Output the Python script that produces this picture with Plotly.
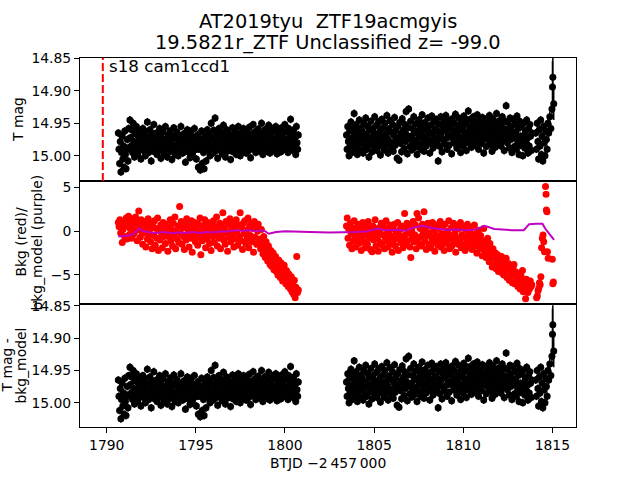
import numpy as np
import plotly.graph_objects as go
from plotly.subplots import make_subplots

# ---------------- data (BTJD - 2457000) ----------------
seg1_start, seg1_end = 1790.65, 1800.75
seg2_start, seg2_end = 1803.45, 1813.85
sector_start = 1789.78

tmag_seg1 = [
 14.965, 14.990, 15.012, 14.978, 15.025, 14.995, 14.970, 15.005, 14.985, 15.018, 14.962, 14.998, 15.020, 14.988, 14.975, 15.008, 14.958, 14.990, 14.945, 14.972,
 14.985, 14.960, 14.995, 14.950, 14.978, 15.002, 14.966, 14.988, 14.955, 14.980, 14.998, 14.970, 14.962, 14.990, 14.975, 15.005, 14.968, 14.984, 14.958, 14.992,
 14.976, 14.962, 15.000, 14.981, 14.970, 14.948, 14.986, 14.995, 14.972, 14.960, 14.990, 15.008, 14.978, 14.966, 14.985, 14.952, 14.994, 14.975, 14.988, 14.965,
 14.998, 14.980, 14.970, 14.992, 14.958, 14.984, 15.004, 14.972, 14.988, 14.963, 14.978, 14.996, 14.982, 14.955, 14.990, 14.975, 15.002, 14.968, 14.986, 14.979,
 14.962, 14.993, 14.975, 15.006, 14.984, 14.970, 14.957, 14.989, 14.998, 14.973, 14.986, 14.964, 14.980, 15.000, 14.969, 14.992, 14.977, 14.955, 14.988, 14.972,
 14.996, 14.982, 14.966, 14.990, 15.010, 14.975, 14.985, 14.960, 14.994, 14.978, 14.970, 15.003, 14.987, 14.962, 14.980, 14.997, 14.971, 14.984, 14.958, 14.991,
 14.976, 15.005, 14.983, 14.968, 15.018, 14.990, 14.974, 15.022, 14.986, 14.962, 15.012, 14.980, 14.995, 15.020, 14.970, 14.988, 15.008, 14.978, 14.960, 14.992,
 14.984, 14.966, 15.000, 14.975, 14.950, 14.989, 14.972, 14.996, 14.961, 14.983, 14.942, 14.978, 14.992, 14.968, 15.004, 14.981, 14.958, 14.990, 14.974, 14.986,
 14.964, 14.997, 14.979, 14.953, 14.988, 14.971, 15.002, 14.983, 14.960, 14.993, 14.976, 14.966, 14.990, 14.980, 15.006, 14.969, 14.985, 14.957, 14.994, 14.975,
 14.988, 14.962, 14.980, 14.998, 14.970, 14.984, 14.955, 14.991, 14.976, 15.000, 14.965, 14.982, 14.973, 14.994, 14.958, 14.987, 14.968, 14.979, 14.996, 14.961,
 14.983, 14.972, 14.992, 14.956, 14.978, 15.003, 14.967, 14.986, 14.974, 14.952, 14.990, 14.979, 14.963, 14.995, 14.981, 14.970, 14.988, 14.959, 14.976, 14.993,
 14.966, 14.984, 14.950, 14.977, 14.998, 14.971, 14.989, 14.960, 14.982, 14.975, 14.993, 14.964, 14.985, 14.953, 14.979, 14.996, 14.969, 14.987, 14.958, 14.980,
 14.974, 14.992, 14.962, 14.983, 14.955, 14.977, 14.997, 14.968, 14.988, 14.960, 14.981, 14.971, 14.994, 14.957, 14.985, 14.966, 14.978, 14.990, 14.952, 14.975,
 14.986, 14.963, 14.979, 14.995, 14.958, 14.982, 14.970, 14.944, 14.988, 14.965, 14.977, 14.992, 14.960, 14.983, 14.971, 14.998, 14.955, 14.980, 14.990, 14.968,
]

tmag_seg2 = [
 14.968, 14.990, 14.955, 14.978, 15.000, 14.962, 14.985, 14.948, 14.973, 14.995, 14.958, 14.980, 14.935, 14.967, 14.988, 14.952, 14.975, 14.998, 14.960, 14.983,
 14.945, 14.970, 14.992, 14.957, 14.978, 14.963, 14.996, 14.950, 14.974, 14.986, 14.942, 14.968, 14.990, 14.955, 14.977, 15.002, 14.961, 14.983, 14.947, 14.972,
 14.994, 14.958, 14.980, 14.965, 14.940, 14.987, 14.970, 14.953, 14.992, 14.976, 14.948, 14.982, 14.962, 14.999, 14.971, 14.944, 14.985, 14.957, 14.975, 14.991,
 14.950, 14.967, 14.983, 14.938, 14.973, 14.996, 14.959, 14.978, 14.946, 14.988, 14.964, 14.980, 14.952, 14.993, 14.969, 14.941, 14.984, 14.961, 14.976, 15.004,
 14.955, 14.972, 15.007, 14.949, 14.981, 14.966, 14.994, 14.943, 14.975, 14.960, 14.989, 14.952, 14.978, 14.932, 14.968, 14.997, 14.957, 14.928, 14.974, 14.986,
 14.947, 14.970, 14.991, 14.958, 14.979, 14.940, 14.965, 14.987, 14.951, 14.976, 14.998, 14.962, 14.983, 14.945, 14.971, 14.954, 14.990, 14.967, 14.937, 14.980,
 14.960, 14.993, 14.949, 14.974, 14.985, 14.956, 14.969, 14.942, 14.981, 14.963, 14.996, 14.953, 14.977, 14.939, 14.966, 14.988, 14.948, 14.972, 14.959, 14.984,
 14.944, 14.978, 14.962, 15.008, 14.951, 14.970, 14.986, 14.940, 14.965, 14.994, 14.955, 14.976, 14.947, 14.982, 14.961, 14.938, 14.973, 14.990, 14.952, 14.968,
 14.984, 14.946, 14.971, 14.958, 14.997, 14.943, 14.966, 14.980, 14.950, 14.975, 14.936, 14.962, 14.988, 14.954, 14.969, 14.942, 14.979, 14.960, 14.995, 14.948,
 14.973, 14.957, 14.985, 14.939, 14.964, 14.977, 14.951, 14.992, 14.945, 14.968, 14.931, 14.981, 14.959, 14.944, 14.974, 14.987, 14.953, 14.966, 14.940, 14.978,
 14.962, 14.949, 14.984, 14.970, 14.937, 14.958, 14.990, 14.946, 14.975, 14.963, 14.952, 14.981, 14.941, 14.967, 14.996, 14.955, 14.972, 14.944, 14.986, 14.960,
 14.948, 14.976, 14.965, 14.938, 14.983, 14.954, 14.970, 14.993, 14.943, 14.961, 14.978, 14.950, 14.987, 14.966, 14.935, 14.974, 14.957, 14.982, 14.946, 14.969,
 14.953, 14.985, 14.964, 14.940, 14.977, 14.958, 14.992, 14.947, 14.971, 14.923, 14.960, 14.980, 14.949, 14.967, 14.988, 14.942, 14.975, 14.956, 14.995, 14.963,
 14.944, 14.972, 14.986, 14.951, 14.966, 14.990, 14.939, 14.978, 14.958, 14.998, 14.947, 14.970, 14.984, 14.955, 14.976, 15.000, 14.950, 14.968, 14.988, 14.962,
 14.980, 14.945, 14.973, 14.996, 14.958, 14.985, 14.952, 14.970, 14.992, 14.965,
]

tmag_end_time = [1814.07, 1814.11, 1814.15, 1814.19, 1814.23, 1814.27, 1814.31, 1814.35, 1814.39, 1814.43,
                 1814.47, 1814.51, 1814.55, 1814.59, 1814.63, 1814.67, 1814.71, 1814.75, 1814.80, 1814.86,
                 1814.92, 1814.98, 1815.01, 1815.03, 1815.08]
tmag_end = [14.965, 14.990, 14.950, 14.978, 15.005, 14.960, 14.985, 14.945, 14.998, 14.970,
            15.008, 14.955, 14.980, 15.000, 14.962, 14.975, 14.990, 14.950, 14.965, 14.940,
            14.958, 14.928, 14.894, 14.879, 14.920]
tmag_err_typical = 0.006
tmag_end_err = [0.006] * 19 + [0.008, 0.008, 0.012, 0.04, 0.03, 0.025]

bkg_seg1 = [
 1.0, 0.5, 1.3, -0.2, 0.8, -1.3, 0.2, 1.1, -0.6, 0.6, 1.5, -0.9, 0.9, 1.7, -0.4, 0.3, 1.2, -0.8, 0.7, 1.4,
 -0.3, 0.9, 1.6, 0.1, -1.1, 1.0, 2.3, 0.4, -0.7, 1.3, 0.0, -1.5, 0.8, -0.2, 1.1, -1.8, 0.5, -0.9, 1.4, -0.4,
 0.2, -1.2, 0.9, -2.0, 0.6, -0.5, 1.2, -1.6, 0.3, -0.8, 1.5, -2.2, 0.1, -1.0, 0.7, -0.3, -1.9, 1.0, -0.6, 0.4,
 -1.4, 0.8, -0.1, -2.3, 0.5, -0.7, 1.3, -1.1, 0.2, -1.7, 0.9, -0.4, 1.6, -2.0, 0.0, -0.9, 0.6, -1.3, 2.8, -0.2,
 1.1, -1.5, 0.4, -0.6, -2.1, 0.7, -1.0, 1.4, -0.3, 0.2, -1.8, 0.9, -0.8, 1.2, -2.4, 0.3, -0.5, 1.0, -1.2, 0.5,
 -0.1, -1.6, 0.8, -0.7, 1.5, -2.7, 0.1, -1.1, 0.6, -0.4, 1.3, -1.9, 0.4, -0.9, 1.0, -0.2, -1.4, 0.7, -2.2, 0.2,
 -0.6, 1.2, -1.3, 0.5, -0.3, 1.6, -1.7, 0.0, -0.8, 0.9, -2.0, 0.6, -0.5, 2.1, -1.0, 0.3, -1.5, 1.1, -0.2, -2.3,
 0.8, -0.7, 1.4, -1.2, 0.2, -0.4, 1.0, -1.8, 0.5, -0.9, 1.3, -0.1, -1.6, 0.7, -0.6, 2.1, -1.1, 0.4, -2.1, 0.9,
 -0.3, 1.2, -1.4, 0.1, -0.8, 1.5, -1.9, 0.6, -0.5, 0.9, -1.2, 0.3, -2.4, 1.1, -0.7, 0.5, -1.5, 0.0, 0.8, -1.0,
 -0.9, -2.0, 0.2, -1.5, -2.6, -0.6, -1.9, -3.0, -1.2, -2.3, -3.4, -1.7, -2.8, -3.8, -2.2, -4.0, -3.1, -2.5, -4.4, -3.5,
 -2.9, -4.6, -3.8, -5.0, -3.3, -4.2, -5.3, -3.6, -4.8, -5.7, -4.1, -3.9, -5.1, -6.0, -4.5, -5.5, -6.3, -4.9, -5.8, -6.6,
 -5.2, -6.9, -6.1, -7.2, -5.6, -7.6, -6.4, -2.9, -7.0, -6.7,
]

bkg_seg2 = [
 0.6, 1.5, -0.8, 0.2, -1.6, 0.9, -0.3, -2.0, 0.4, -1.1, 1.2, -0.5, -1.8, 0.1, -0.9, 0.8, -1.4, -0.2, 0.5, -2.2,
 -0.6, 1.0, -1.2, 0.0, -1.9, 0.7, -0.4, -1.5, 1.1, -0.8, 0.3, -2.1, -0.1, -2.35, 0.6, -1.0, -0.5, 1.3, -1.7, 0.2,
 -0.9, -2.3, 0.4, -0.2, -1.3, 0.9, -1.6, -0.4, 0.5, -2.0, -0.7, 1.2, -1.1, 0.1, -1.8, -0.3, 0.7, -1.4, -0.6, -2.4,
 0.3, -1.0, 0.8, -1.7, -0.1, -0.8, 1.0, -2.2, -0.5, 0.2, -1.3, 0.6, -0.9, -1.9, 0.4, 2.0, -0.4, -1.5, 0.9, -1.1,
 -0.2, 0.5, -1.8, -3.0, 0.1, -0.7, 1.1, -1.2, -0.4, 0.7, -2.0, 2.0, -0.9, 1.5, -1.4, 0.3, -0.6, -1.7, 0.8, -0.1,
 2.2, -1.1, 0.4, -2.1, -0.5, 0.9, -1.5, -0.2, 0.6, -1.9, -0.8, 1.0, -1.3, 0.2, -2.3, -0.4, 0.7, -1.0, -1.6, 0.3,
 -0.7, 1.1, -1.8, -0.3, 0.5, -1.2, -2.2, 0.8, -0.6, -1.4, 0.0, -1.0, 1.2, -2.0, -0.5, 0.4, -1.7, -0.9, 0.9, -1.3,
 -0.2, -2.4, 0.6, -0.8, -1.5, 0.3, -1.1, 1.0, -1.9, -0.4, 0.5, -1.6, -0.7, -2.2, 0.2, -1.2, 0.8, -0.5, -1.8, -0.1,
 -1.0, 0.4, -2.1, -0.6, -1.4, 0.7, -1.7, -0.3, -2.5, -0.9, 0.1, -1.3, -2.0, -0.5, -1.6, -2.8, -1.1, 0.3, -2.2, -1.5,
 -3.0, -1.8, -0.8, -2.6, -3.5, -1.4, -2.3, -3.1, -4.1, -2.0, -2.9, -3.8, -2.5, -4.3, -3.2, -2.7, -4.6, -3.6, -3.0, -4.1,
 -2.9, -4.8, -3.4, -5.0, -3.9, -4.4, -3.1, -5.3, -4.2, -3.7, -5.6, -4.6, -4.0, -5.1, -5.9, -4.3, -3.8, -6.0, -5.2, -4.7,
 -5.6, -6.3, -4.9, -5.4, -6.6, -5.1, -6.1, -4.5, -6.9, -5.8, -6.4, -7.7, -5.5, -6.2, -7.0, -5.9, -6.6, -5.7, -6.3, -6.1,
]

bkg_end_time = [1814.12, 1814.16, 1814.20, 1814.24, 1814.28, 1814.32, 1814.36, 1814.40, 1814.44, 1814.48, 1814.52,
                1814.56, 1814.62, 1814.65, 1814.67, 1814.70, 1814.73, 1814.77, 1815.00, 1815.03, 1815.06]
bkg_end = [-7.6, -7.4, -6.8, -6.5, -5.9, -6.1, -5.2, -1.9, -0.8, -0.45, -1.2,
           -2.35, 5.1, 4.2, 2.4, 2.2, -2.35, -3.1, -3.2, -6.0, -5.8]

bkg_model_time = [1790.65, 1790.9, 1791.2, 1791.5, 1791.8, 1792.0, 1792.4, 1792.8, 1793.2, 1793.6,
                  1794.0, 1794.4, 1794.8, 1795.2, 1795.6, 1796.0, 1796.4, 1796.8, 1797.2, 1797.6,
                  1798.0, 1798.4, 1798.8, 1799.1, 1799.5, 1800.0, 1800.4, 1800.8, 1801.4, 1802.5,
                  1803.5, 1804.0, 1804.6, 1805.2, 1805.6, 1806.2, 1806.8, 1807.1, 1807.7, 1808.4,
                  1809.0, 1809.6, 1810.2, 1810.7, 1811.2, 1811.75, 1812.2, 1812.75, 1813.4, 1813.7,
                  1814.1, 1814.45, 1814.6, 1814.85, 1815.1]
bkg_model = [-0.6, -0.55, -0.5, -0.35, 0.3, 0.05, -0.15, -0.2, -0.1, -0.25,
             -0.15, -0.2, -0.1, -0.2, -0.1, -0.15, 0.0, -0.05, 0.1, 0.05,
             0.1, 0.0, 0.1, -0.3, -0.1, 0.0, -0.05, -0.1, -0.1, -0.15,
             -0.15, -0.1, 0.0, 0.3, 0.1, 0.15, 0.05, 0.35, 0.6, 0.3,
             0.15, 0.2, 0.1, 0.2, 0.6, 0.25, 0.2, 0.1, 0.1, 0.8,
             0.85, 0.85, 0.3, -0.3, -1.0]

# T mag - bkg_model: indistinguishable from T mag at this scale in the reference
tmag_corr_seg1 = tmag_seg1
tmag_corr_seg2 = tmag_seg2
tmag_corr_end = tmag_end

x_ticks = [1790, 1795, 1800, 1805, 1810, 1815]
mag_ticks = [14.85, 14.90, 14.95, 15.00]
bkg_ticks = [-5, 0, 5]
bkg_ticktext = ["\u22125", "0", "5"]

# ---------------- assemble ----------------
t_mag = np.concatenate([np.linspace(seg1_start, seg1_end, len(tmag_seg1)),
                        np.linspace(seg2_start, seg2_end, len(tmag_seg2)),
                        np.array(tmag_end_time)])
mag = np.array(tmag_seg1 + tmag_seg2 + tmag_end)
mag_corr = np.array(tmag_corr_seg1 + tmag_corr_seg2 + tmag_corr_end)
mag_err = np.array([tmag_err_typical] * (len(tmag_seg1) + len(tmag_seg2)) + tmag_end_err)

t_bkg = np.concatenate([np.linspace(seg1_start, seg1_end, len(bkg_seg1)),
                        np.linspace(seg2_start, seg2_end, len(bkg_seg2)),
                        np.array(bkg_end_time)])
bkg = np.array(bkg_seg1 + bkg_seg2 + bkg_end)

FONT = "DejaVu Sans"
W, H = 640, 480
L, R, T, B = 80, 64, 58, 53
PW, PH = W - L - R, H - T - B


def px_x(px):
    return (px - L) / PW


def px_y(py):
    return (H - B - py) / PH


fig = make_subplots(rows=3, cols=1, shared_xaxes=True, vertical_spacing=0)

fig.add_trace(go.Scatter(x=t_mag, y=mag, mode="markers",
                         marker=dict(color="black", size=7),
                         error_y=dict(type="data", array=mag_err, color="black", thickness=1.5, width=0),
                         showlegend=False), row=1, col=1)
fig.add_trace(go.Scatter(x=t_bkg, y=bkg, mode="markers",
                         marker=dict(color="#ff0000", size=7), showlegend=False), row=2, col=1)
fig.add_trace(go.Scatter(x=bkg_model_time, y=bkg_model, mode="lines",
                         line=dict(color="#bf00bf", width=2), showlegend=False), row=2, col=1)
fig.add_trace(go.Scatter(x=t_mag, y=mag_corr, mode="markers",
                         marker=dict(color="black", size=7),
                         error_y=dict(type="data", array=mag_err, color="black", thickness=1.5, width=0),
                         showlegend=False), row=3, col=1)

fig.add_shape(type="line", x0=sector_start, x1=sector_start, y0=0, y1=1,
              xref="x", yref="y domain", line=dict(color="#ff0000", width=2, dash="8px,3px"))

axis_common = dict(showline=True, mirror=True, linecolor="black", linewidth=1,
                   showgrid=False, zeroline=False, automargin=False,
                   tickfont=dict(family=FONT, size=13.9, color="black"))

for i in (1, 2, 3):
    fig.update_xaxes(range=[1788.50, 1816.33], row=i, col=1, **axis_common)
fig.update_xaxes(ticks="", showticklabels=False, row=1, col=1)
fig.update_xaxes(ticks="", showticklabels=False, row=2, col=1)
fig.update_xaxes(ticks="outside", ticklen=5, tickwidth=1, tickcolor="black",
                 tickvals=x_ticks, ticktext=[str(v) for v in x_ticks], row=3, col=1)

fig.update_yaxes(range=[15.039, 14.8495], tickvals=mag_ticks, ticktext=[f"{v:.2f}" for v in mag_ticks],
                 ticks="outside", ticklen=5, tickwidth=1, tickcolor="black", row=1, col=1, **axis_common)
fig.update_yaxes(range=[-8.31, 5.72], tickvals=bkg_ticks, ticktext=bkg_ticktext,
                 ticks="outside", ticklen=5, tickwidth=1, tickcolor="black", row=2, col=1, **axis_common)
fig.update_yaxes(range=[15.0377, 14.847], tickvals=mag_ticks, ticktext=[f"{v:.2f}" for v in mag_ticks],
                 ticks="outside", ticklen=5, tickwidth=1, tickcolor="black", row=3, col=1, **axis_common)

ann = []
tf = dict(family=FONT, size=19.4, color="black")
sf = dict(family=FONT, size=16.7, color="black")
lf = dict(family=FONT, size=13.9, color="black")
ann.append(dict(text="AT2019tyu \u00a0ZTF19acmgyis", x=0.5, y=px_y(21), xref="paper", yref="paper",
                xanchor="center", yanchor="middle", showarrow=False, font=tf))
ann.append(dict(text="19.5821r_ZTF Unclassified z= -99.0", x=0.5, y=px_y(43), xref="paper", yref="paper",
                xanchor="center", yanchor="middle", showarrow=False, font=tf))
ann.append(dict(text="s18 cam1ccd1", x=1790.0, y=1, xref="x", yref="y domain",
                xanchor="left", yanchor="top", yshift=4, showarrow=False, font=sf))
ann.append(dict(text="BTJD \u22122\u2009457\u2009000", x=0.5, y=px_y(463), xref="paper", yref="paper",
                xanchor="center", yanchor="middle", showarrow=False, font=lf))
# y labels
ann.append(dict(text="T mag", x=px_x(18), y=px_y(120), xref="paper", yref="paper", textangle=-90,
                xanchor="center", yanchor="middle", showarrow=False, font=lf))
ann.append(dict(text="Bkg (red)/", x=px_x(20), y=px_y(242.5), xref="paper", yref="paper", textangle=-90,
                xanchor="center", yanchor="middle", showarrow=False, font=lf))
ann.append(dict(text="bkg_model (purple)", x=px_x(36), y=px_y(242.5), xref="paper", yref="paper", textangle=-90,
                xanchor="center", yanchor="middle", showarrow=False, font=lf))
ann.append(dict(text="T mag -", x=px_x(6), y=px_y(365.5), xref="paper", yref="paper", textangle=-90,
                xanchor="center", yanchor="middle", showarrow=False, font=lf))
ann.append(dict(text="bkg_model", x=px_x(20), y=px_y(365.5), xref="paper", yref="paper", textangle=-90,
                xanchor="center", yanchor="middle", showarrow=False, font=lf))

fig.update_layout(width=W, height=H, margin=dict(l=L, r=R, t=T, b=B, pad=0, autoexpand=False),
                  paper_bgcolor="white", plot_bgcolor="white",
                  font=dict(family=FONT, color="black"),
                  annotations=list(fig.layout.annotations) + ann,
                  hovermode=False, showlegend=False)

fig.write_html("out.html", config={"displayModeBar": False},
               post_script="document.body.style.margin='0';document.body.style.padding='0';")
